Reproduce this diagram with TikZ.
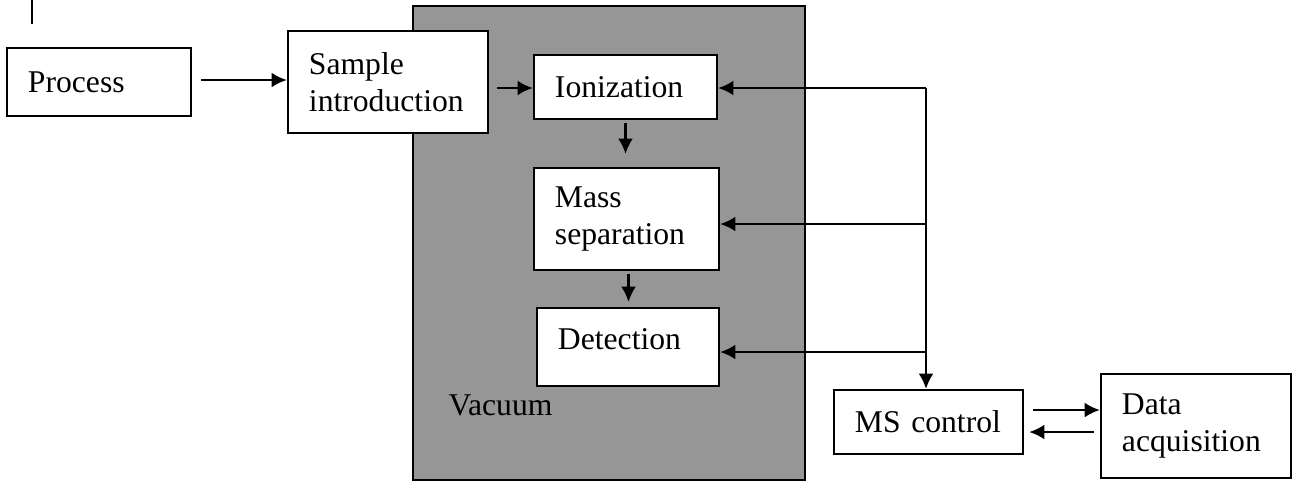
\documentclass[tikz,border=0pt]{standalone}
\usepackage{fontspec}
\setmainfont{Liberation Serif}
\usetikzlibrary{arrows.meta,calc,positioning}
\definecolor{vakum}{RGB}{150,150,150}

\begin{document}
\begin{tikzpicture}[x=0.01cm,y=-0.01cm,
    kotak/.style={draw, line width=0.65pt, fill=white, align=left, inner xsep=0.21cm, inner ysep=0pt, font=\fontsize{9}{10.5}\selectfont},
    panah/.style={-{Latex[length=4.3pt,width=4.2pt]}, line width=0.6pt}]
    \useasboundingbox (0,0) rectangle (1292,481);

    % Garis kecil di pojok kiri atas
    \draw[line width=0.65pt] (32,0) -- (32,24);

    % Ruang Vakum
    \draw[line width=0.65pt, fill=vakum] (413,6) rectangle (805,480);
    \node[anchor=west, inner sep=0pt, font=\fontsize{9}{10.5}\selectfont] (vakum) at (448,405) {Vacuum};

    % Blok Proses
    \node[kotak, text width=1.42cm, minimum height=0.68cm] (proses) at (99,82) {Process};
    \node[kotak, text width=1.58cm, minimum height=1.02cm] (sampel) at (388,82) {Sample\\introduction};

    % Blok di dalam vakum
    \node[kotak, text width=1.41cm, minimum height=0.64cm] (ionisasi) at (625.5,87) {Ionization};
    \node[kotak, text width=1.43cm, minimum height=1.02cm] (massa) at (626.5,219) {Mass\\separation};
    \node[kotak, text width=1.40cm, minimum height=0.78cm, text depth=0.16cm] (deteksi) at (628,347) {Detection};

    % Blok Kontrol dan Data
    \node[kotak, text width=1.47cm, minimum height=0.64cm] (ms) at (928.5,422) {MS control};
    \node[kotak, text width=1.48cm, minimum height=1.04cm] (data) at (1196,426) {Data\\acquisition};

    % Panah alur sampel
    \draw[panah] ($(proses.east)+(9,-2)$) -- ($(sampel.west)+(0,-2)$);
    \draw[panah] ($(sampel.east |- ionisasi.west)+(8,1)$) -- ($(ionisasi.west)+(0,1)$);
    \draw[panah] ($(ionisasi.south)+(0,3)$) -- ($(ionisasi.south |- massa.north)+(0,-13)$);
    \draw[panah] ($(massa.south)+(2,3)$) -- ($(massa.south |- deteksi.north)+(2,-5)$);

    % Jalur kontrol
    \coordinate (kontrol) at (926,88);
    \draw[panah] (kontrol) -- (kontrol |- ms.north);
    \draw[panah] (kontrol) -- (ionisasi.east |- kontrol);
    \draw[panah] ($(kontrol |- massa.east)+(0,5)$) -- ($(massa.east)+(0,5)$);
    \draw[panah] ($(kontrol |- deteksi.east)+(0,5)$) -- ($(deteksi.east)+(0,5)$);

    % Panah dua arah MS control -- Data acquisition
    \draw[panah] ($(ms.east)+(9,-12)$) -- ($(data.west |- ms.east)+(0,-12)$);
    \draw[panah] ($(data.west |- ms.east)+(-6,10)$) -- ($(ms.east)+(5,10)$);
\end{tikzpicture}
\end{document}
